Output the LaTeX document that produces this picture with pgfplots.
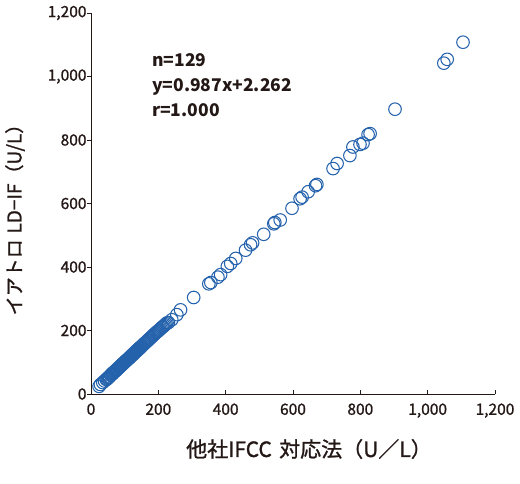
\documentclass[border=0pt]{standalone}
\usepackage{pgfplots}
\pgfplotsset{compat=1.18}
\usepackage{fontspec}
\setmainfont{Noto Sans CJK JP}
\newfontfamily\medfont{Noto Sans CJK JP}[FakeBold=1.2]
\definecolor{txt}{RGB}{35,24,21}
\definecolor{mk}{RGB}{36,98,172}
\begin{document}
\begin{tikzpicture}[x=1bp,y=1bp]
\path[use as bounding box] (-91bp,-90bp) rectangle (429bp,394bp);
\begin{axis}[
  at={(0,0)}, anchor=origin,
  scale only axis, width=404bp, height=381bp,
  xmin=0, xmax=1200, ymin=0, ymax=1200,
  axis x line*=bottom, axis y line*=left,
  axis line style={txt, line width=0.9bp},
  xtick={0,200,...,1200}, ytick={0,200,...,1200},
  tick align=inside,
  major tick length=4bp,
  tick style={txt, line width=0.9bp},
  y tick style={xshift=-4bp},
  ticklabel style={font=\medfont\fontsize{15.5bp}{16bp}\selectfont, text=txt},
  xticklabel style={yshift=-6bp},
  yticklabel style={xshift=-1bp},
  /pgf/number format/.cd, 1000 sep={,}, assume math mode=true,
  /pgfplots/.cd,
  clip=false,
]
\addplot[only marks, mark=o, mark size=6.3bp, mark options={mk, line width=1.05bp}] coordinates {
(1105,1108) (1058,1054) (1048,1042) (903,897) (829,820) (823,817) (808,790) (799,786)
(778,778) (769,751) (731,726) (719,710) (671,660) (667,656) (645,637) (627,620)
(621,615) (597,585) (562,548) (546,540) (543,536) (513,503) (480,476) (474,470)
(459,453) (430,427) (415,411) (405,402) (385,376) (377,368) (356,351) (350,347)
(305,304) (266,265) (255,250) (240,234) (230,225)
(45,46) (48,47) (52,53) (55,54) (58,59) (60,60) (62,63) (65,64) (67,68) (70,70)
(72,73) (74,74) (76,77) (78,78) (80,80) (82,83) (84,84) (86,86) (88,89) (90,90)
(92,93) (94,94) (96,96) (98,99) (100,100) (102,103) (104,104) (106,107) (108,108) (110,110)
(112,112) (114,115) (116,116) (118,118) (120,121) (122,122) (124,125) (126,126) (128,128) (130,131)
(132,132) (134,134) (136,137) (138,138) (140,140) (142,142) (144,145) (146,146) (148,148) (150,150)
(152,152) (155,155) (157,158) (160,160) (162,162) (165,165) (168,168) (170,170) (173,173) (176,176)
(178,178) (181,181) (184,184) (187,187) (190,190) (193,193) (196,196) (199,198) (202,201) (205,204)
(208,207) (211,210) (214,212) (217,215) (220,218) (223,221) (226,224)
(64,66) (75,75) (85,85) (95,95) (105,105) (115,114) (125,124) (135,135) (145,144) (139,139)
(50,50) (40,41) (35,36) (28,30) (24,24)
};
\end{axis}
\node[text=txt, font=\medfont\fontsize{21bp}{22bp}\selectfont, anchor=center] at (218bp,-55bp) {他社IFCC\hspace{0.35em}対応法（U／L）};
\node[text=txt, font=\medfont\fontsize{19bp}{22bp}\selectfont, rotate=90, anchor=center] at (-76bp,179bp) {イアトロ\hspace{0.3em}LD−IF（U/L）};
\node[text=txt, font=\bfseries\fontsize{17.5bp}{25bp}\selectfont, anchor=north west, align=left, inner sep=0pt] at (61bp,341bp) {n=129\\y=0.987x+2.262\\r=1.000};
\end{tikzpicture}
\end{document}
